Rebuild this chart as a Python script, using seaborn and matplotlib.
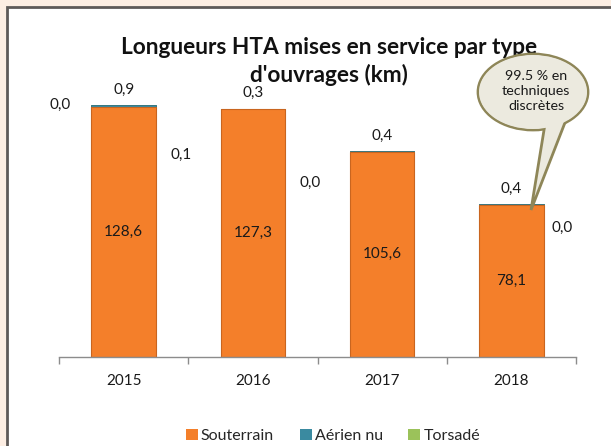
import numpy as np
import pandas as pd
import matplotlib
matplotlib.use("Agg")
import matplotlib.pyplot as plt
from matplotlib.patches import Rectangle, Ellipse, Polygon, Patch
import seaborn as sns

# Données (km)
annees = ["2015", "2016", "2017", "2018"]
souterrain = [128.6, 127.3, 105.6, 78.1]
aerien_nu = [0.9, 0.3, 0.4, 0.4]
torsade = [0.0, 0.1, 0.0, 0.0]
series = ["Souterrain", "Aérien nu", "Torsadé"]
titre = ["Longueurs HTA mises en service par type", "d'ouvrages (km)"]
bulle = "99.5 % en\ntechniques\ndiscrètes"

couleurs = {"Souterrain": "#f47f2a", "Aérien nu": "#3a8aa0", "Torsadé": "#9bc25a"}

sns.set_theme(style="white")
plt.rcParams["font.family"] = ["Lato", "DejaVu Sans"]

df = pd.DataFrame({"annee": annees, "Souterrain": souterrain,
                   "Aérien nu": aerien_nu, "Torsadé": torsade})
df["cum1"] = df["Souterrain"]
df["cum2"] = df["cum1"] + df["Aérien nu"]
df["cum3"] = df["cum2"] + df["Torsadé"]

W, H = 611, 446
fig = plt.figure(figsize=(W / 100, H / 100), dpi=100)
fig.patch.set_facecolor("#fdeee3")

# panneau blanc encadré
fig.patches.append(Rectangle((7 / W, -0.05), 1.0, 1 - 7 / H + 0.05, transform=fig.transFigure,
                             facecolor="white", edgecolor="#5e5a58", linewidth=2, zorder=-1))

ax = fig.add_axes([59 / W, (H - 357) / H, (576 - 59) / W, (357 - 84.6) / H])
ax.set_facecolor("none")

# barres empilées : totaux d'abord, puis recouvrement
sns.barplot(data=df, x="annee", y="cum3", color=couleurs["Torsadé"], width=0.5,
            saturation=1, ax=ax, edgecolor="#8aa84f", linewidth=0.6)
sns.barplot(data=df, x="annee", y="cum2", color=couleurs["Aérien nu"], width=0.5,
            saturation=1, ax=ax, edgecolor="#2f7386", linewidth=0.6)
sns.barplot(data=df, x="annee", y="cum1", color=couleurs["Souterrain"], width=0.5,
            saturation=1, ax=ax, edgecolor="#c9651f", linewidth=0.8)

ax.set_xlim(-0.5, 3.5)
ax.set_ylim(0, 140)
ax.set_xlabel("")
ax.set_ylabel("")
ax.set_yticks([])
for s in ["left", "right", "top"]:
    ax.spines[s].set_visible(False)
ax.spines["bottom"].set_color("#8c8c8c")
ax.spines["bottom"].set_linewidth(1)
ax.set_xticks(range(len(annees)))
ax.set_xticklabels(annees, fontsize=11, color="#1a1a1a")
ax.set_xticks(np.arange(-0.5, len(annees), 1), minor=True)
ax.tick_params(axis="x", which="major", length=0, pad=12)
ax.tick_params(axis="x", which="minor", length=5, color="#8c8c8c", direction="out", bottom=True)

def fmt(v):
    return f"{v:.1f}".replace(".", ",")

# étiquettes : souterrain au centre, aérien au-dessus, torsadé à côté (décalages en px)
decal_torsade = [(-64, 0), (-72, -46), (-72, -32), (51, -24)]
for i in range(len(annees)):
    ax.text(i, souterrain[i] / 2, fmt(souterrain[i]), ha="center", va="center",
            fontsize=11, color="#1a1a1a")
    ax.annotate(fmt(aerien_nu[i]), (i, df["cum3"][i]), xytext=(0, 11),
                textcoords="offset points", ha="center", va="center",
                fontsize=11, color="#1a1a1a")
    dx, dy = decal_torsade[i]
    ax.annotate(fmt(torsade[i]), (i, df["cum3"][i]), xytext=(dx * 0.72, dy * 0.72),
                textcoords="offset points", ha="center", va="center",
                fontsize=11, color="#1a1a1a")

for ligne, y in zip(titre, [48, 75]):
    fig.text(329 / W, 1 - y / H, ligne, ha="center", va="center", fontsize=16.3,
             fontweight="bold", color="#111111")

# bulle
def px(x, y):
    return (x / W, 1 - y / H)

fond_bulle = "#eceadf"
bord_bulle = "#8e8658"
fig.patches.append(Ellipse(px(533, 92), 110 / W, 76 / H, transform=fig.transFigure,
                           facecolor=fond_bulle, edgecolor=bord_bulle, linewidth=2, zorder=5))
fig.patches.append(Polygon([px(545, 124), px(566, 120), px(531, 210)], closed=True,
                           transform=fig.transFigure, facecolor=fond_bulle,
                           edgecolor=bord_bulle, linewidth=2, zorder=6))
fig.patches.append(Ellipse(px(533, 92), 108 / W, 74 / H, transform=fig.transFigure,
                           facecolor=fond_bulle, edgecolor="none", zorder=7))
fig.text(536 / W, 1 - 91 / H, bulle, ha="center", va="center", fontsize=10.3,
         linespacing=1.25, color="#1a1a1a", zorder=8)

# légende
poignees = [Patch(facecolor=couleurs[s], edgecolor="none", label=s) for s in series]
fig.legend(handles=poignees, loc="center", bbox_to_anchor=(333 / W, 1 - 436 / H), ncol=3,
           frameon=False, fontsize=11.5, handlelength=0.75, handleheight=0.75,
           handletextpad=0.2, columnspacing=1.6)

fig.savefig("out.png", dpi=100, facecolor=fig.get_facecolor())
